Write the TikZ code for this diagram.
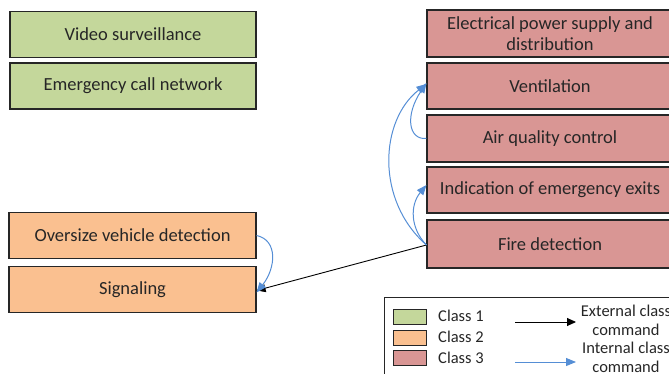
\documentclass[tikz,border=0pt]{standalone}
\usepackage{fontspec}
\setmainfont{Carlito}
\usetikzlibrary{arrows.meta}
\definecolor{cgreen}{HTML}{C4D79B}
\definecolor{corange}{HTML}{FAC090}
\definecolor{cred}{HTML}{D99694}
\definecolor{cblue}{HTML}{558ED5}
\definecolor{ctext}{HTML}{262626}
\begin{document}
\begin{tikzpicture}[x=1pt,y=-1pt,
  box/.style={draw=black!85,line width=1.1pt,minimum height=46pt,inner sep=2pt,align=center,font=\fontsize{18.5}{20.5}\selectfont,text=ctext},
  gbox/.style={box,fill=cgreen,minimum width=246pt},
  obox/.style={box,fill=corange,minimum width=247pt},
  rbox/.style={box,fill=cred,minimum width=246pt},
  ext/.style={-{Triangle[length=9pt,width=8pt]},black,line width=0.9pt},
  int/.style={-{Triangle[length=10pt,width=8pt]},cblue,line width=1pt},
  leg/.style={draw=black!85,line width=0.9pt,minimum width=33pt,minimum height=15pt,inner sep=0pt},
  ltext/.style={font=\fontsize{16.5}{17}\selectfont,text=ctext,inner sep=0pt}
]
\useasboundingbox (0,0) rectangle (669,374);
\node[gbox] (vs) at (133,34.5) {Video surveillance};
\node[gbox] (ec) at (133,86) {Emergency call network};
\node[obox] (ov) at (132.5,235.5) {Oversize vehicle detection};
\node[obox] (sg) at (132.5,289.5) {Signaling};
\node[rbox,minimum height=47pt] (ep) at (550,33.5) {Electrical power supply and\\distribution};
\node[rbox] (ve) at (550,86) {Ventilation};
\node[rbox,minimum height=47pt] (aq) at (550,138.5) {Air quality control};
\node[rbox] (ie) at (550,190) {Indication of emergency exits};
\node[rbox,minimum height=48pt] (fd) at (550,244) {Fire detection};
% connectors
\coordinate (fdw) at ([yshift=-1pt]fd.west);
\draw[ext] (fdw) -- ([yshift=-1pt]sg.east);
\draw[int] (ov.east) .. controls (278,240) and (276,268) .. ([yshift=-3pt]sg.east);
\draw[int] (fdw) .. controls (410,228) and (410,205) .. ([yshift=5pt]ie.west);
\draw[int] (fdw) .. controls (375,200) and (380,120) .. ([yshift=2pt]ve.west);
\draw[int] (aq.west) .. controls (408,140) and (405,115) .. ([yshift=3pt]ve.west);
% legend
\draw[black!85,line width=0.9pt] (384,380) -- (384,297) -- (675,297);
\node[leg,fill=cgreen] (l1) at (409.5,316.5) {};
\node[leg,fill=corange] (l2) at (409.5,337.5) {};
\node[leg,fill=cred] (l3) at (409.5,358) {};
\node[ltext,anchor=west] (t1) at (438,316) {Class 1};
\node[ltext,anchor=west] (t2) at (438,337) {Class 2};
\node[ltext,anchor=west] (t3) at (438,358) {Class 3};
\coordinate (a1) at (515,322);
\coordinate (b1) at (576,322);
\coordinate (a2) at (515,362);
\coordinate (b2) at (576,362);
\draw[ext] (a1) -- (b1);
\draw[int] (a2) -- (b2);
\node[ltext] (e1) at (626,311) {External class};
\node[ltext] (e2) at (626,330) {command};
\node[ltext] (i1) at (626,347.5) {Internal class};
\node[ltext] (i2) at (626,367) {command};
\end{tikzpicture}
\end{document}
